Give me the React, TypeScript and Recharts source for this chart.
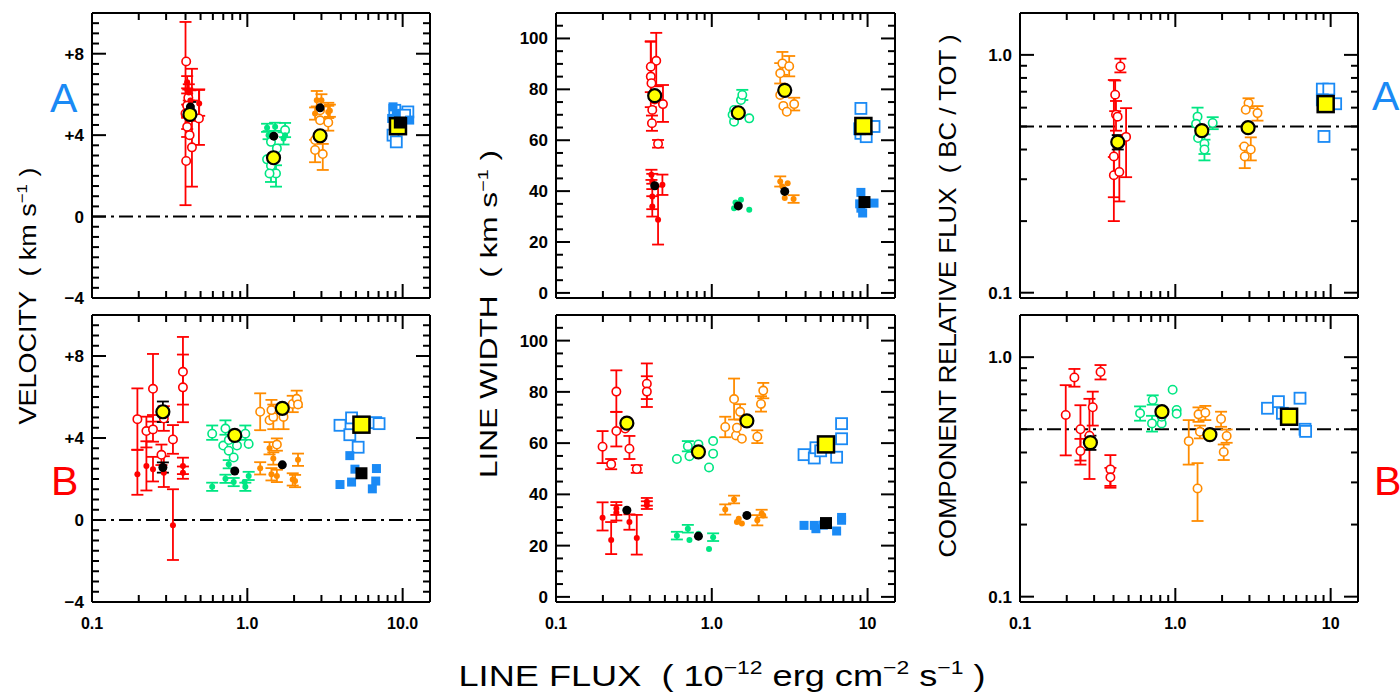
import React from "react";
import {ScatterChart, Scatter, XAxis, YAxis, ErrorBar, ReferenceLine} from "recharts";

const RED = "#ff0000";
const GREEN = "#00e683";
const ORANGE = "#ff8c00";
const BLUE = "#1a8af5";
const YELLOW = "#ffff00";
const FONT = "'Liberation Sans', Arial, sans-serif";

// rows are [line flux, value, err low, err high]
type Row = number[];

// ---- A : velocity
const aVelRedOpen: Row[] = [[0.404, 7.62], [0.417, 5.84, 0.4], [0.4, 5.06, 4.5], [0.41, 5.45, 0.6], [0.41, 4.41, 0.5], [0.488, 4.82, 1.3, 1.4], [0.44, 3.4, 1.93, 3.86], [0.404, 2.73], [0.425, 4.0]];
const aVelRedFill: Row[] = [[0.41, 6.6, 0.3], [0.42, 6.1, 0.4], [0.43, 5.7, 0.5], [0.49, 5.55, 0.6, 0.7], [0.44, 5.2, 0.5], [0.41, 4.9, 0.6]];
const aVelGreenOpen: Row[] = [[1.34, 2.81], [1.42, 2.5, 0.8, 0.3], [1.53, 2.12, 0.65, 0.4], [1.39, 2.12], [1.75, 4.25, 0.35], [1.42, 3.67], [1.55, 3.35]];
const aVelGreenFill: Row[] = [[1.34, 4.36, 0.2], [1.51, 4.41, 0.2], [1.71, 3.84, 0.3], [1.37, 4.0, 0.2], [1.75, 4.0]];
const aVelOrangeOpen: Row[] = [[2.73, 3.27, 0.6, 0.5], [3.06, 3.07, 0.78, 0.5], [2.94, 4.73], [3.32, 4.62, 0.4, 0.97], [2.73, 3.76], [2.94, 5.22]];
const aVelOrangeFill: Row[] = [[2.8, 5.71, 0.3, 0.46], [3.0, 5.71, 0.3], [3.32, 5.14, 0.3], [2.73, 5.06, 0.3], [3.4, 5.2, 0.3]];
const aVelBlueOpen: Row[] = [[8.67, 4.0], [9.1, 3.67], [10.8, 5.14], [8.9, 5.22], [10.3, 4.98]];
const aVelBlueFill: Row[] = [[8.67, 5.39], [9.1, 5.06], [11.1, 4.74], [8.5, 4.82]];
const aVelMeanOpen: Row[] = [[0.427, 5.02], [1.475, 2.89], [2.94, 3.97]];
const aVelMeanFill: Row[] = [[0.43, 5.38, 0.25], [1.48, 3.95], [2.94, 5.34]];
const aVelBlueMeanOpen: Row[] = [[9.33, 4.44]];
const aVelBlueMeanFill: Row[] = [[9.59, 4.62]];

// ---- B : velocity
const bVelRedOpen: Row[] = [[0.196, 4.92, 1.5], [0.224, 4.34, 0.8, 0.7], [0.247, 6.4, 1.6, 1.7], [0.247, 4.42, 0.6, 0.7], [0.28, 3.18, 0.5], [0.29, 4.95, 0.6], [0.332, 3.93, 0.7], [0.385, 7.23, 1.6, 1.7], [0.385, 6.47, 1.7, 1.6]];
const bVelRedFill: Row[] = [[0.196, 2.23, 1.0, 1.2], [0.224, 2.64, 1.2], [0.247, 2.48, 0.6], [0.29, 2.31, 0.7, 0.8], [0.332, -0.25, 1.7, 1.75], [0.385, 2.64, 0.4], [0.385, 2.31, 0.3]];
const bVelGreenOpen: Row[] = [[0.594, 4.21, 0.3, 0.4], [0.723, 4.46, 0.3, 0.4], [0.7, 3.63], [0.759, 3.38], [0.817, 3.05], [0.858, 3.63], [0.971, 4.21, 0.3, 0.4], [1.02, 3.71], [0.76, 3.9]];
const bVelGreenFill: Row[] = [[0.594, 1.62, 0.2], [0.723, 2.01, 0.2], [0.759, 2.72, 0.2], [0.817, 1.85, 0.2], [0.971, 1.62, 0.2], [1.02, 2.15, 0.2], [0.96, 1.85]];
const bVelOrangeOpen: Row[] = [[1.21, 5.28, 0.9], [1.39, 4.87], [1.47, 5.03, 0.6], [1.43, 5.36, 0.5], [1.71, 5.03, 0.6], [1.55, 3.68, 0.3], [1.96, 5.66, 0.4], [2.08, 5.91, 0.4], [2.12, 5.64]];
const bVelOrangeFill: Row[] = [[1.21, 2.52, 0.3], [1.39, 3.5, 0.3], [1.43, 2.23, 0.3], [1.47, 3.0, 0.3], [1.55, 2.15, 0.3], [1.96, 1.98, 0.3], [2.03, 1.9, 0.3], [2.12, 2.94, 0.3]];
const bVelBlueOpen: Row[] = [[3.95, 4.62], [4.69, 4.98], [4.57, 4.16], [5.17, 3.55], [6.71, 4.75], [7.05, 4.7]];
const bVelBlueFill: Row[] = [[3.95, 1.73], [4.57, 3.14], [4.69, 1.85], [4.93, 2.48], [6.78, 2.51], [6.71, 1.9], [6.38, 1.52]];
const bVelMeanOpen: Row[] = [[0.286, 5.28, 0.5], [0.83, 4.13], [1.68, 5.45]];
const bVelMeanFill: Row[] = [[0.286, 2.56, 0.25], [0.83, 2.39], [1.68, 2.69]];
const bVelBlueMeanOpen: Row[] = [[5.43, 4.65]];
const bVelBlueMeanFill: Row[] = [[5.43, 2.28]];

// ---- A : line width
const aWidRedOpen: Row[] = [[0.44, 91.2, 10, 11], [0.406, 88.9, 10], [0.406, 85.0, 12, 13.7], [0.41, 82.4], [0.415, 71.9], [0.413, 66.7, 3], [0.486, 74.2, 7, 7.5], [0.452, 58.6, 1.5], [0.43, 76]];
const aWidRedFill: Row[] = [[0.41, 46.4, 2], [0.415, 43.8, 3], [0.415, 37.9, 5], [0.415, 34.0, 4], [0.482, 42.5, 4], [0.452, 28.8, 9.8, 13]];
const aWidGreenOpen: Row[] = [[1.39, 67.3], [1.39, 71.9], [1.54, 75.8], [1.57, 77.8, 2], [1.74, 68.6], [1.36, 70.0]];
const aWidGreenFill: Row[] = [[1.39, 33.3], [1.46, 34.6], [1.74, 32.7], [1.54, 36.6], [1.42, 35.5]];
const aWidOrangeOpen: Row[] = [[2.75, 86.3, 4], [2.84, 90.2, 4.5], [3.14, 89.1, 4], [2.75, 77.8], [2.88, 73.5], [3.03, 71.2], [3.38, 74.2, 2.5]];
const aWidOrangeFill: Row[] = [[2.75, 43.8, 2], [2.84, 41.8], [3.07, 43.1], [2.94, 37.3], [3.35, 36.9, 1.5]];
const aWidBlueOpen: Row[] = [[9.06, 72.5], [9.06, 62.7], [11.0, 65.4], [9.8, 61.4], [8.9, 64.5]];
const aWidBlueFill: Row[] = [[9.06, 39.5], [9.06, 33.3], [11.0, 35.3], [9.3, 31.4], [8.9, 35.0]];
const aWidMeanOpen: Row[] = [[0.43, 77.5], [1.48, 70.8], [2.94, 79.6]];
const aWidMeanFill: Row[] = [[0.43, 42.1], [1.48, 34.2], [2.94, 39.9]];
const aWidBlueMeanOpen: Row[] = [[9.4, 65.6]];
const aWidBlueMeanFill: Row[] = [[9.55, 35.7]];

// ---- B : line width
const bWidRedOpen: Row[] = [[0.199, 58.6, 6.4, 6.1], [0.226, 51.8, 2], [0.244, 80.1, 7.9, 8.3], [0.244, 64.7, 6, 7.5], [0.278, 65.7], [0.296, 57.8, 4, 5], [0.33, 49.9, 1.5], [0.383, 83.2, 6, 7.9], [0.383, 80.1, 6]];
const bWidRedFill: Row[] = [[0.199, 30.9, 5, 6], [0.226, 22.2, 5.5, 7], [0.244, 32.8, 3], [0.244, 34.5, 2.5], [0.296, 29.2, 3], [0.33, 23.0, 6.5, 9], [0.383, 35.8, 1.5], [0.383, 37.1, 1.5]];
const bWidGreenOpen: Row[] = [[0.597, 53.8], [0.702, 58.8, 2], [0.719, 54.9], [0.821, 59.5], [1.02, 60.8], [1.02, 55.9], [0.96, 50.5]];
const bWidGreenFill: Row[] = [[0.597, 23.9, 1.5], [0.702, 26.6, 1.5], [0.719, 22.2], [0.821, 24.6], [1.02, 23.3, 1.5], [0.96, 18.7]];
const bWidOrangeOpen: Row[] = [[1.22, 66.3, 4], [1.39, 77.2, 8], [1.43, 63.0], [1.56, 61.7], [1.52, 72.2, 3], [2.07, 75.3, 3], [2.14, 80.5, 3], [1.96, 62.5, 2.5], [1.45, 66.0]];
const bWidOrangeFill: Row[] = [[1.22, 34.1, 2], [1.39, 38.0, 1.5], [1.45, 29.2], [1.56, 28.6], [1.96, 29.9, 2], [2.09, 32.5, 1.5], [2.14, 31.8], [1.49, 30.5]];
const bWidBlueOpen: Row[] = [[3.91, 55.5], [4.55, 54.2], [4.66, 58.2], [6.33, 54.5], [6.81, 61.7], [6.81, 67.6], [5.0, 57]];
const bWidBlueFill: Row[] = [[3.91, 27.9], [4.66, 26.6], [4.55, 27.9], [6.33, 25.7], [6.81, 29.9], [6.81, 31], [5.2, 28]];
const bWidMeanOpen: Row[] = [[0.285, 67.8], [0.821, 56.6], [1.68, 68.7]];
const bWidMeanFill: Row[] = [[0.285, 33.8], [0.821, 23.7], [1.68, 31.8]];
const bWidBlueMeanOpen: Row[] = [[5.41, 59.5]];
const bWidBlueMeanFill: Row[] = [[5.41, 28.8]];

// ---- A : relative flux
const aRelRedOpen: Row[] = [[0.443, 0.894, 0.05, 0.07], [0.41, 0.68, 0.1], [0.415, 0.56, 0.08], [0.425, 0.55], [0.482, 0.452, 0.146, 0.145], [0.402, 0.374, 0.174, 0.41], [0.402, 0.312, 0.06], [0.436, 0.322, 0.08, 0.1]];
const aRelGreenOpen: Row[] = [[1.39, 0.55, 0.05], [1.36, 0.513], [1.4, 0.447], [1.54, 0.423, 0.04], [1.54, 0.4, 0.04], [1.74, 0.517, 0.03]];
const aRelOrangeOpen: Row[] = [[2.96, 0.627, 0.03], [2.84, 0.588], [3.38, 0.569, 0.04], [2.78, 0.412], [3.06, 0.4, 0.04, 0.05], [2.8, 0.374, 0.04]];
const aRelBlueOpen: Row[] = [[8.84, 0.718], [9.73, 0.718], [10.77, 0.623], [8.84, 0.647], [9.06, 0.454, 0.02]];
const aRelMeanOpen: Row[] = [[0.426, 0.43, 0.03], [1.48, 0.48], [2.94, 0.494]];
const aRelBlueMeanOpen: Row[] = [[9.29, 0.621]];

// ---- B : relative flux
const bRelRedOpen: Row[] = [[0.197, 0.574, 0.185, 0.19], [0.224, 0.823, 0.07], [0.245, 0.5, 0.13], [0.245, 0.406, 0.05], [0.294, 0.618, 0.1], [0.33, 0.867, 0.06], [0.382, 0.34, 0.05], [0.382, 0.315, 0.03], [0.28, 0.47, 0.16, 0.2]];
const bRelGreenOpen: Row[] = [[0.593, 0.583, 0.04], [0.715, 0.663, 0.03], [0.708, 0.529, 0.04], [0.817, 0.529], [0.961, 0.731], [1.02, 0.602], [1.02, 0.58], [0.817, 0.564]];
const bRelOrangeOpen: Row[] = [[1.22, 0.446, 0.09, 0.1], [1.39, 0.283, 0.076, 0.078], [1.41, 0.577, 0.04], [1.56, 0.586, 0.04], [1.44, 0.488, 0.03], [1.97, 0.552, 0.04], [2.14, 0.469, 0.03], [2.05, 0.402, 0.03]];
const bRelBlueOpen: Row[] = [[3.92, 0.612], [4.61, 0.652], [4.89, 0.583], [6.35, 0.674], [6.84, 0.5], [6.9, 0.49]];
const bRelMeanOpen: Row[] = [[0.284, 0.44, 0.03], [0.82, 0.592], [1.67, 0.475]];
const bRelBlueMeanOpen: Row[] = [[5.4, 0.564]];

// ---- ticks
const X_TICKS = [0.1, 0.2, 0.3, 0.4, 0.5, 0.6, 0.7, 0.8, 0.9, 1, 2, 3, 4, 5, 6, 7, 8, 9, 10];
const X_MAJOR = [0.1, 1, 10];
const X_LABELS_VEL = ["0.1", "1.0", "10.0"];
const X_LABELS = ["0.1", "1.0", "10"];
const VEL_TICKS = [-4, -3.5, -3, -2.5, -2, -1.5, -1, -0.5, 0, 0.5, 1, 1.5, 2, 2.5, 3, 3.5, 4, 4.5, 5, 5.5, 6, 6.5, 7, 7.5, 8, 8.5, 9, 9.5];
const VEL_MAJOR = [-4, 0, 4, 8];
const VEL_LABELS = ["\u22124", "0", "+4", "+8"];
const WID_TICKS = [0, 5, 10, 15, 20, 25, 30, 35, 40, 45, 50, 55, 60, 65, 70, 75, 80, 85, 90, 95, 100, 105];
const WID_MAJOR = [0, 20, 40, 60, 80, 100];
const WID_LABELS = ["0", "20", "40", "60", "80", "100"];
const REL_TICKS = [0.1, 0.2, 0.3, 0.4, 0.5, 0.6, 0.7, 0.8, 0.9, 1];
const REL_MAJOR = [0.1, 1];
const REL_LABELS = ["0.1", "1.0"];

const AXIS_LINE = {stroke: "#000", strokeWidth: 2};
const M = {t: 10, r: 50, b: 45, l: 75};
const AX = 1; // axis band size, taken out of the margins

const pts = (rows: Row[]) =>
  rows.map(([x, y, lo, hi]) => ({x, y, err: lo ? [lo, hi ?? lo] : undefined}));

const SHAPES: Record<string, (c: string) => (p: any) => React.ReactElement> = {
  open: (c) => (p) => <circle cx={p.cx} cy={p.cy} r={4.2} fill="#fff" stroke={c} strokeWidth={1.6} />,
  dot: (c) => (p) => <circle cx={p.cx} cy={p.cy} r={3} fill={c} />,
  osq: (c) => (p) => <rect x={p.cx - 5.5} y={p.cy - 5.5} width={11} height={11} fill="#fff" stroke={c} strokeWidth={1.8} />,
  fsq: (c) => (p) => <rect x={p.cx - 4.5} y={p.cy - 4.5} width={9} height={9} fill={c} />,
  ymean: () => (p) => <circle cx={p.cx} cy={p.cy} r={6.5} fill={YELLOW} stroke="#000" strokeWidth={2.2} />,
  bmean: () => (p) => <circle cx={p.cx} cy={p.cy} r={4.5} fill="#000" />,
  ysq: () => (p) => <rect x={p.cx - 8} y={p.cy - 8} width={16} height={16} fill={YELLOW} stroke="#000" strokeWidth={2.5} />,
  bsq: () => (p) => <rect x={p.cx - 6} y={p.cy - 6} width={12} height={12} fill="#000" />,
};

type Side = "bottom" | "top" | "left" | "right";

function makeTick(side: Side, majors: number[], labels: string[] | null) {
  return (p: any) => {
    const v = p.payload.value;
    const idx = majors.findIndex((m) => Math.abs(m - v) < 1e-6);
    const len = idx >= 0 ? 14 : 7;
    const {x, y} = p;
    let line;
    if (side === "bottom") line = <line x1={x} y1={y} x2={x} y2={y - len} />;
    else if (side === "top") line = <line x1={x} y1={y} x2={x} y2={y + len} />;
    else if (side === "left") line = <line x1={x} y1={y} x2={x + len} y2={y} />;
    else line = <line x1={x} y1={y} x2={x - len} y2={y} />;
    const label = labels && idx >= 0 ? labels[idx] : null;
    return (
      <g stroke="#000" strokeWidth={2}>
        {line}
        {label && side === "bottom" && (
          <text x={x} y={y + 27} textAnchor="middle" fontSize={16} fontWeight="bold" fontFamily={FONT} stroke="none" fill="#000">{label}</text>
        )}
        {label && side === "left" && (
          <text x={x - 8} y={y + 6} textAnchor="end" fontSize={17} fontWeight="bold" fontFamily={FONT} stroke="none" fill="#000">{label}</text>
        )}
      </g>
    );
  };
}

type Series = {d: Row[]; k: string; c: string};

const group = (open: Row[], fill: Row[] | null, c: string, sq = false): Series[] => {
  const out: Series[] = [{d: open, k: sq ? "osq" : "open", c}];
  if (fill) out.push({d: fill, k: sq ? "fsq" : "dot", c});
  return out;
};

const Y_CFG: Record<string, any> = {
  vel: {domain: [-4, 10], ticks: VEL_TICKS, majors: VEL_MAJOR, labels: VEL_LABELS, ref: 0, log: false},
  wid: {domain: [-2, 110], ticks: WID_TICKS, majors: WID_MAJOR, labels: WID_LABELS, ref: null, log: false},
  rel: {domain: [0.095, 1.5], ticks: REL_TICKS, majors: REL_MAJOR, labels: REL_LABELS, ref: 0.5, log: true},
};

const PANELS = [
  {key: "avel", left: 92, top: 13, w: 338, h: 285, y: "vel", xl: null, series: [
    ...group(aVelRedOpen, aVelRedFill, RED), ...group(aVelGreenOpen, aVelGreenFill, GREEN),
    ...group(aVelOrangeOpen, aVelOrangeFill, ORANGE), ...group(aVelBlueOpen, aVelBlueFill, BLUE, true),
    {d: aVelMeanFill, k: "bmean", c: "#000"}, {d: aVelMeanOpen, k: "ymean", c: "#000"},
    {d: aVelBlueMeanOpen, k: "ysq", c: "#000"}, {d: aVelBlueMeanFill, k: "bsq", c: "#000"}]},
  {key: "awid", left: 556, top: 13, w: 339, h: 285, y: "wid", xl: null, series: [
    ...group(aWidRedOpen, aWidRedFill, RED), ...group(aWidGreenOpen, aWidGreenFill, GREEN),
    ...group(aWidOrangeOpen, aWidOrangeFill, ORANGE), ...group(aWidBlueOpen, aWidBlueFill, BLUE, true),
    {d: aWidMeanFill, k: "bmean", c: "#000"}, {d: aWidMeanOpen, k: "ymean", c: "#000"},
    {d: aWidBlueMeanOpen, k: "ysq", c: "#000"}, {d: aWidBlueMeanFill, k: "bsq", c: "#000"}]},
  {key: "arel", left: 1020, top: 13, w: 338, h: 285, y: "rel", xl: null, series: [
    ...group(aRelRedOpen, null, RED), ...group(aRelGreenOpen, null, GREEN),
    ...group(aRelOrangeOpen, null, ORANGE), ...group(aRelBlueOpen, null, BLUE, true),
    {d: aRelMeanOpen, k: "ymean", c: "#000"}, {d: aRelBlueMeanOpen, k: "ysq", c: "#000"}]},
  {key: "bvel", left: 92, top: 315, w: 338, h: 287, y: "vel", xl: X_LABELS_VEL, series: [
    ...group(bVelRedOpen, bVelRedFill, RED), ...group(bVelGreenOpen, bVelGreenFill, GREEN),
    ...group(bVelOrangeOpen, bVelOrangeFill, ORANGE), ...group(bVelBlueOpen, bVelBlueFill, BLUE, true),
    {d: bVelMeanFill, k: "bmean", c: "#000"}, {d: bVelMeanOpen, k: "ymean", c: "#000"},
    {d: bVelBlueMeanOpen, k: "ysq", c: "#000"}, {d: bVelBlueMeanFill, k: "bsq", c: "#000"}]},
  {key: "bwid", left: 556, top: 315, w: 339, h: 287, y: "wid", xl: X_LABELS, series: [
    ...group(bWidRedOpen, bWidRedFill, RED), ...group(bWidGreenOpen, bWidGreenFill, GREEN),
    ...group(bWidOrangeOpen, bWidOrangeFill, ORANGE), ...group(bWidBlueOpen, bWidBlueFill, BLUE, true),
    {d: bWidMeanFill, k: "bmean", c: "#000"}, {d: bWidMeanOpen, k: "ymean", c: "#000"},
    {d: bWidBlueMeanOpen, k: "ysq", c: "#000"}, {d: bWidBlueMeanFill, k: "bsq", c: "#000"}]},
  {key: "brel", left: 1020, top: 315, w: 338, h: 287, y: "rel", xl: X_LABELS, series: [
    ...group(bRelRedOpen, null, RED), ...group(bRelGreenOpen, null, GREEN),
    ...group(bRelOrangeOpen, null, ORANGE), ...group(bRelBlueOpen, null, BLUE, true),
    {d: bRelMeanOpen, k: "ymean", c: "#000"}, {d: bRelBlueMeanOpen, k: "ysq", c: "#000"}]},
];

function Panel({p}: {p: any}) {
  const yc = Y_CFG[p.y];
  const yScale = yc.log ? "log" : "linear";
  return (
    <div style={{position: "absolute", left: p.left - M.l, top: p.top - M.t}}>
      <ScatterChart width={p.w + M.l + M.r} height={p.h + M.t + M.b}
        margin={{top: M.t - AX, right: M.r - AX, bottom: M.b - AX, left: M.l - AX}}>
        <XAxis xAxisId="b" orientation="bottom" type="number" dataKey="x" scale="log" domain={[0.1, 15]} allowDataOverflow
          ticks={X_TICKS} interval={0} height={AX} tickSize={0} tickMargin={0} tickLine={false} axisLine={AXIS_LINE}
          tick={makeTick("bottom", X_MAJOR, p.xl)} />
        <XAxis xAxisId="t" orientation="top" type="number" dataKey="x" scale="log" domain={[0.1, 15]} allowDataOverflow
          ticks={X_TICKS} interval={0} height={AX} tickSize={0} tickMargin={0} tickLine={false} axisLine={AXIS_LINE}
          tick={makeTick("top", X_MAJOR, null)} />
        <YAxis yAxisId="l" orientation="left" type="number" dataKey="y" scale={yScale} domain={yc.domain} allowDataOverflow
          ticks={yc.ticks} interval={0} width={AX} tickSize={0} tickMargin={0} tickLine={false} axisLine={AXIS_LINE}
          tick={makeTick("left", yc.majors, yc.labels)} />
        <YAxis yAxisId="r" orientation="right" type="number" dataKey="y" scale={yScale} domain={yc.domain} allowDataOverflow
          ticks={yc.ticks} interval={0} width={AX} tickSize={0} tickMargin={0} tickLine={false} axisLine={AXIS_LINE}
          tick={makeTick("right", yc.majors, null)} />
        {yc.ref !== null && (
          <ReferenceLine xAxisId="b" yAxisId="l" y={yc.ref} stroke="#000" strokeWidth={2} strokeDasharray="14 5 3 5" />
        )}
        <Scatter xAxisId="t" yAxisId="r" data={[{x: 1, y: 1}]} shape={() => <g />} isAnimationActive={false} />
        {p.series.map((s: Series, i: number) => (
          <Scatter key={i} xAxisId="b" yAxisId="l" data={pts(s.d)} shape={SHAPES[s.k](s.c)} isAnimationActive={false}>
            <ErrorBar dataKey="err" direction="y" width={6} stroke={s.c} strokeWidth={1.8} />
          </Scatter>
        ))}
      </ScatterChart>
    </div>
  );
}

export default function App() {
  const title = {fontFamily: FONT, fill: "#000", whiteSpace: "pre" as const};
  return (
    <div style={{position: "absolute", left: 0, top: 0, width: 1400, height: 699, overflow: "hidden", background: "#fff"}}>
      {PANELS.map((p) => <Panel key={p.key} p={p} />)}
      <svg width={1400} height={699} style={{position: "absolute", left: 0, top: 0, pointerEvents: "none"}}>
        <text transform="translate(36,296) rotate(-90)" textAnchor="middle" fontSize={24} textLength={257} lengthAdjust="spacingAndGlyphs" style={title}>
          VELOCITY  ( km s<tspan dy={-9} fontSize={15}>{"\u22121"}</tspan><tspan dy={9}> )</tspan>
        </text>
        <text transform="translate(497,314) rotate(-90)" textAnchor="middle" fontSize={24} textLength={328} lengthAdjust="spacingAndGlyphs" style={title}>
          LINE WIDTH  ( km s<tspan dy={-9} fontSize={15}>{"\u22121"}</tspan><tspan dy={9}> )</tspan>
        </text>
        <text transform="translate(956,296) rotate(-90)" textAnchor="middle" fontSize={24} textLength={523} lengthAdjust="spacingAndGlyphs" style={title}>
          COMPONENT RELATIVE FLUX  ( BC / TOT )
        </text>
        <text x={722} y={686} textAnchor="middle" fontSize={30} textLength={527} lengthAdjust="spacingAndGlyphs" style={title}>
          LINE FLUX  ( 10<tspan dy={-12} fontSize={19}>{"\u221212"}</tspan><tspan dy={12}> erg cm</tspan><tspan dy={-12} fontSize={19}>{"\u22122"}</tspan><tspan dy={12}> s</tspan><tspan dy={-12} fontSize={19}>{"\u22121"}</tspan><tspan dy={12}> )</tspan>
        </text>
        <text x={50} y={112} fontSize={41} fontFamily={FONT} fill={BLUE}>A</text>
        <text x={51} y={495} fontSize={41} fontFamily={FONT} fill={RED}>B</text>
        <text x={1372} y={110} fontSize={41} fontFamily={FONT} fill={BLUE}>A</text>
        <text x={1374} y={495} fontSize={41} fontFamily={FONT} fill={RED}>B</text>
      </svg>
    </div>
  );
}
